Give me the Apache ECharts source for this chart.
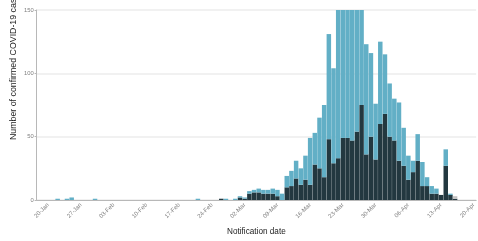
<!DOCTYPE html>
<html>
<head>
<meta charset="utf-8">
<script src="https://cdn.jsdelivr.net/npm/echarts@6/dist/echarts.min.js"></script>
<style>
  html, body { margin: 0; padding: 0; background: #fff; }
  #chart { width: 478px; height: 241px; }
</style>
</head>
<body>
<div id="chart"></div>
<script>
// daily categories, 18-Jan-2020 .. 20-Apr-2020
const startDay = 18;
const dayCount = 94;
const monthNames = ["Jan", "Feb", "Mar", "Apr", "May"];

// one row per week, starting 18-Jan
const casesDark = [
  0, 0, 0, 0, 0, 0, 0,
  0, 0, 0, 0, 0, 0, 0,
  0, 0, 0, 0, 0, 0, 0,
  0, 0, 0, 0, 0, 0, 0,
  0, 0, 0, 0, 0, 0, 0,
  0, 0, 0, 0, 1, 0, 0,
  0, 2, 1, 5, 6, 6, 5,
  5, 5, 3, 0, 10, 11, 17,
  12, 16, 12, 28, 25, 18, 48,
  29, 33, 49, 49, 47, 54, 75,
  36, 50, 32, 60, 68, 50, 47,
  31, 27, 16, 22, 31, 11, 11,
  5, 5, 4, 27, 4, 1, 0,
  0, 0, 0
];
const casesLight = [
  0, 0, 0, 0, 1, 0, 1,
  2, 0, 0, 0, 0, 1, 0,
  0, 0, 0, 0, 0, 0, 0,
  0, 0, 0, 0, 0, 0, 0,
  0, 0, 0, 0, 0, 0, 1,
  0, 0, 0, 0, 0, 1, 0,
  1, 1, 1, 2, 2, 3, 3,
  3, 4, 5, 5, 9, 12, 14,
  13, 19, 37, 25, 40, 57, 83,
  75, 127, 126, 141, 123, 126, 85,
  87, 66, 44, 65, 47, 42, 33,
  46, 30, 19, 9, 21, 19, 7,
  6, 4, 0, 13, 1, 0, 0,
  0, 0, 0
];
const casesGray = [
  0, 0, 0, 0, 0, 0, 0,
  0, 0, 0, 0, 0, 0, 0,
  0, 0, 0, 0, 0, 0, 0,
  0, 0, 0, 0, 0, 0, 0,
  0, 0, 0, 0, 0, 0, 0,
  0, 0, 0, 0, 0, 0, 0,
  0, 0, 0, 0, 0, 0, 0,
  0, 0, 0, 0, 0, 0, 0,
  0, 0, 0, 0, 0, 0, 0,
  0, 0, 0, 0, 0, 0, 0,
  0, 0, 0, 0, 0, 0, 0,
  0, 0, 0, 0, 0, 0, 0,
  0, 0, 0, 0, 0, 2, 0,
  0, 0, 0
];
const yTicks = [0, 50, 100, 150];

const dates = [];
for (let i = 0; i < dayCount; i++) {
  const d = new Date(2020, 0, startDay + i);
  dates.push(String(d.getDate()).padStart(2, "0") + "-" + monthNames[d.getMonth()]);
}

// weekly labels from 20-Jan (index 2)
const weekly = function (index) {
  return (index - 2) % 7 === 0;
};

const axisGrey = "#b8b8b8";
const font = "Liberation Sans, Arial, sans-serif";

const myChart = echarts.init(document.getElementById("chart"), null, { renderer: "canvas" });

const option = {
  animation: false,
  backgroundColor: "#fff",
  textStyle: { fontFamily: font },
  grid: { left: 36.6, top: 10, width: 447.4, height: 193 },
  xAxis: {
    type: "category",
    data: dates,
    name: "Notification date",
    nameLocation: "middle",
    nameGap: 28,
    nameTextStyle: { fontSize: 8.2, color: "#222", fontFamily: font },
    axisLine: { lineStyle: { color: axisGrey, width: 1 } },
    axisTick: { interval: weekly, alignWithLabel: true, length: 2, lineStyle: { color: axisGrey } },
    axisLabel: { interval: weekly, rotate: 45, fontSize: 6, color: "#808080", margin: 4 },
    splitLine: { show: false },
  },
  yAxis: {
    type: "value",
    min: yTicks[0],
    max: yTicks[yTicks.length - 1],
    interval: 50,
    axisLine: { show: true, lineStyle: { color: axisGrey, width: 1 } },
    axisTick: { show: true, length: 2, lineStyle: { color: axisGrey } },
    axisLabel: { fontSize: 5.8, color: "#808080", margin: 3 },
    splitLine: { lineStyle: { color: "#ececec", width: 1.5 } },
  },
  graphic: [
    {
      type: "text",
      x: 14,
      y: 140,
      rotation: Math.PI / 2,
      style: {
        text: "Number of confirmed COVID-19 cases",
        fontSize: 8.8,
        fontFamily: font,
        fill: "#222",
        textAlign: "left",
        textVerticalAlign: "middle",
      },
    },
  ],
  series: [
    {
      type: "bar",
      stack: "cases",
      data: casesDark,
      barCategoryGap: "4%",
      itemStyle: { color: "#233840" },
    },
    {
      type: "bar",
      stack: "cases",
      data: casesLight,
      barCategoryGap: "4%",
      itemStyle: { color: "#62afc6" },
    },
    {
      type: "bar",
      stack: "cases",
      data: casesGray,
      barCategoryGap: "4%",
      itemStyle: { color: "#c2c2c2" },
    },
  ],
};

myChart.setOption(option);
</script>
</body>
</html>
